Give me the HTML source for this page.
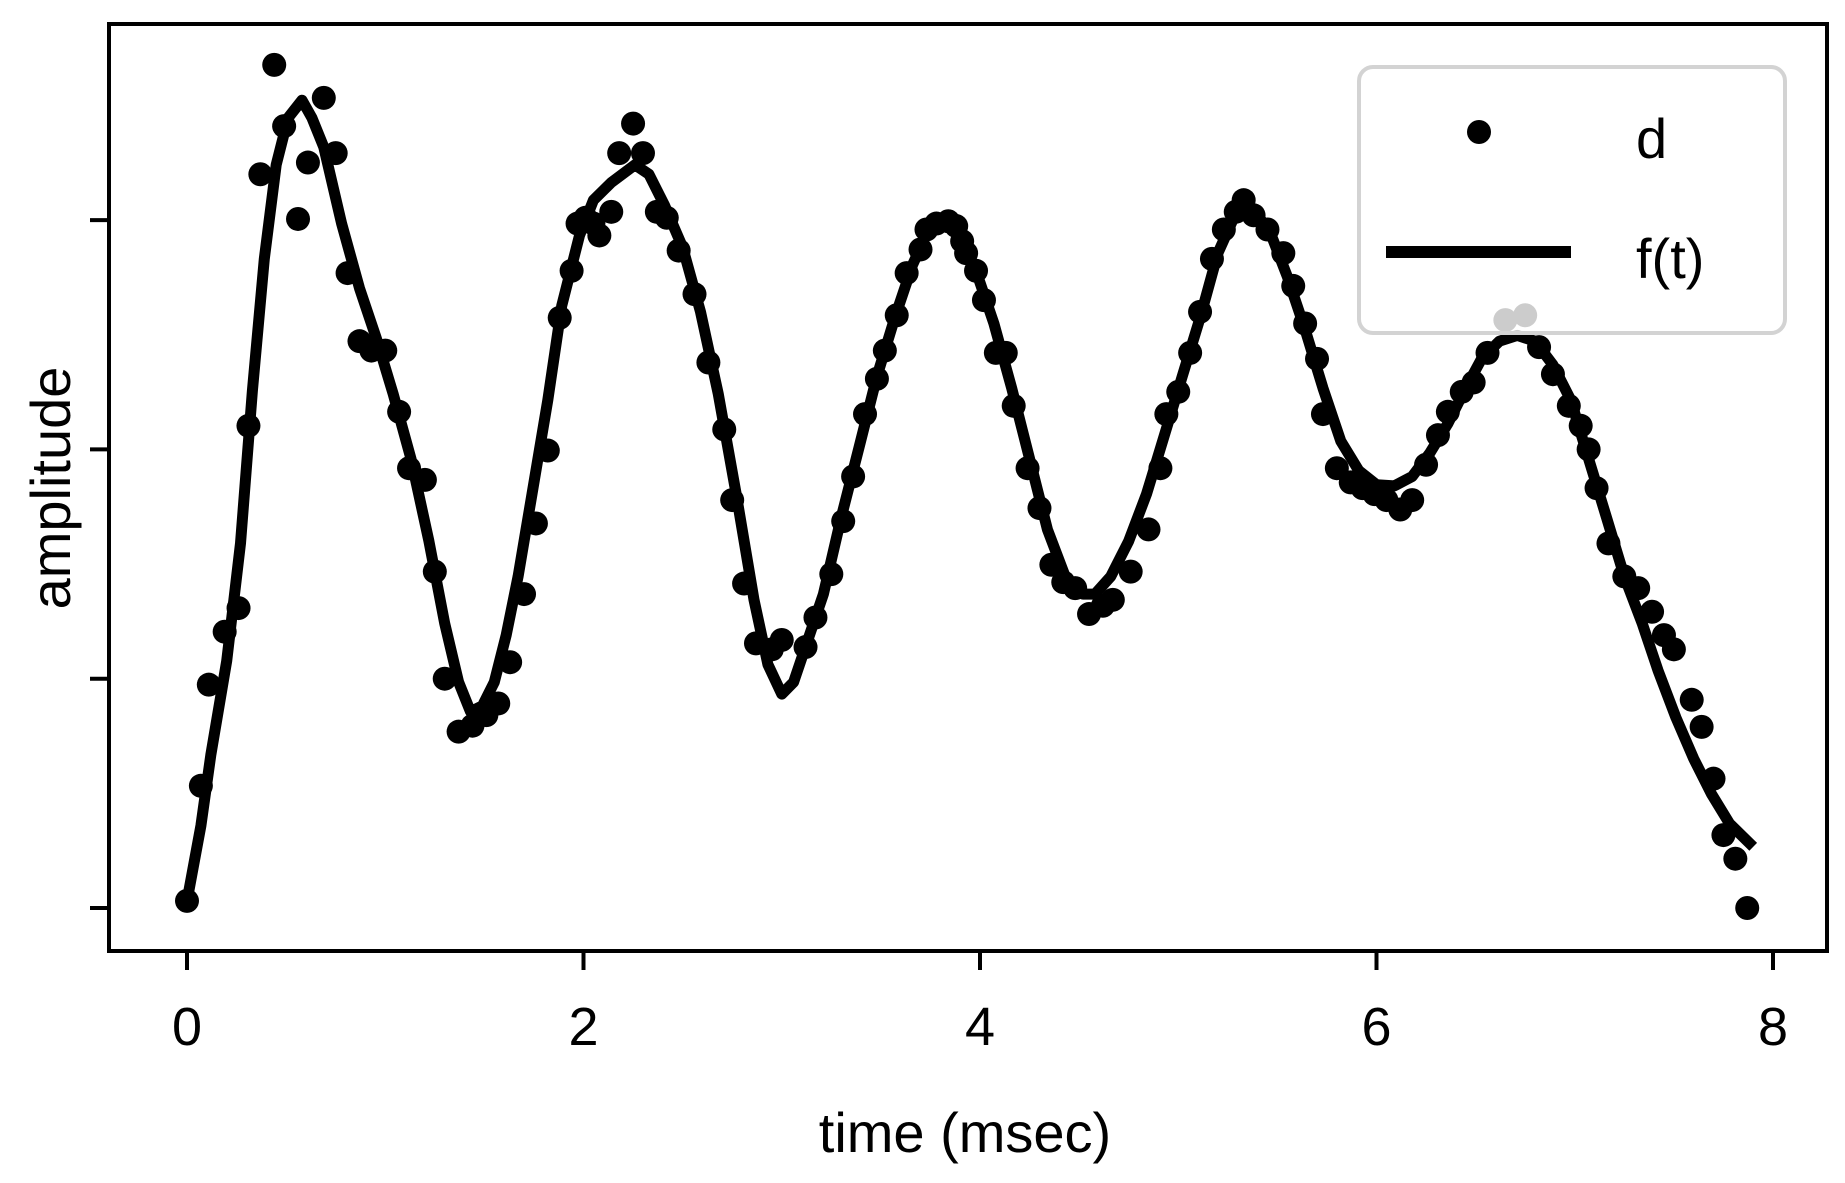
<!DOCTYPE html>
<html><head><meta charset="utf-8"><style>
html,body{margin:0;padding:0;background:#fff}
svg{display:block}
text{font-family:"Liberation Sans",sans-serif;fill:#000}
</style></head><body>
<svg id="chart" width="1845" height="1183" viewBox="0 0 1845 1183" xmlns="http://www.w3.org/2000/svg">
<g id="marks"></g>
<rect x="109" y="24" width="1718" height="927" fill="none" stroke="#000" stroke-width="4"/>
<g id="ticks"></g>
<text x="965" y="1152" font-size="56" text-anchor="middle">time (msec)</text>
<text x="0" y="0" font-size="56" text-anchor="middle" transform="translate(70,488) rotate(-90)">amplitude</text>
<g>
<rect x="1359" y="67" width="426" height="266" rx="14" fill="#fff" fill-opacity="0.8" stroke="#d3d3d3" stroke-width="4"/>
<circle cx="1479" cy="132" r="12" fill="#000"/>
<text x="1636" y="158" font-size="56">d</text>
<line x1="1386" y1="252" x2="1571" y2="252" stroke="#000" stroke-width="12"/>
<text x="1636" y="278" font-size="56">f(t)</text>
</g>
</svg>
<script>
const xTicks=[0,2,4,6,8];
const yTicks=[0,10,20,30];
const dataT=[0.00,0.07,0.11,0.19,0.26,0.31,0.37,0.44,0.49,0.56,0.61,0.69,0.75,0.81,0.87,0.93,1.00,1.07,1.12,1.20,1.25,1.30,1.37,1.44,1.51,1.57,1.63,1.70,1.76,1.82,1.88,1.94,1.97,2.01,2.05,2.08,2.14,2.18,2.25,2.30,2.37,2.42,2.48,2.56,2.63,2.71,2.75,2.81,2.87,2.95,3.00,3.12,3.17,3.25,3.31,3.36,3.42,3.48,3.52,3.58,3.63,3.70,3.73,3.78,3.84,3.88,3.91,3.93,3.98,4.02,4.08,4.13,4.17,4.24,4.30,4.36,4.42,4.48,4.55,4.62,4.67,4.76,4.85,4.91,4.94,5.00,5.06,5.11,5.17,5.23,5.29,5.33,5.38,5.45,5.53,5.58,5.64,5.70,5.73,5.80,5.87,5.93,5.99,6.05,6.12,6.18,6.25,6.31,6.36,6.43,6.49,6.56,6.65,6.75,6.82,6.89,6.97,7.03,7.07,7.11,7.17,7.25,7.32,7.39,7.45,7.50,7.59,7.64,7.70,7.75,7.81,7.87];
const dataD=[0.31,5.33,9.74,12.05,13.08,21.03,32.0,36.77,34.10,30.05,32.51,35.33,32.92,27.69,24.72,24.31,24.31,21.64,19.18,18.67,14.67,10.0,7.69,7.95,8.41,8.92,10.72,13.69,16.77,19.95,25.74,27.79,29.85,30.10,29.85,29.33,30.36,32.92,34.21,32.92,30.36,30.10,28.67,26.77,23.79,20.87,17.79,14.15,11.54,11.28,11.69,11.38,12.67,14.56,16.87,18.82,21.54,23.08,24.31,25.85,27.69,28.72,29.59,29.85,29.95,29.74,29.08,28.56,27.79,26.51,24.21,24.21,21.90,19.18,17.44,14.97,14.21,13.95,12.82,13.18,13.44,14.67,16.51,19.18,21.54,22.51,24.21,26.0,28.31,29.59,30.36,30.87,30.21,29.59,28.56,27.13,25.49,23.95,21.54,19.18,18.56,18.31,18.05,17.79,17.38,17.79,19.33,20.62,21.64,22.51,22.92,24.21,25.64,25.85,24.46,23.28,21.90,21.03,20.0,18.31,15.90,14.46,13.95,12.92,11.90,11.28,9.08,7.90,5.64,3.18,2.15,0.0];
const fitT=[0,0.07,0.12,0.20,0.27,0.33,0.39,0.45,0.51,0.58,0.63,0.69,0.78,0.87,0.96,1.04,1.13,1.22,1.30,1.37,1.43,1.49,1.55,1.61,1.67,1.74,1.82,1.89,1.98,2.05,2.14,2.26,2.33,2.41,2.50,2.59,2.68,2.77,2.86,2.93,3.00,3.06,3.14,3.21,3.30,3.39,3.48,3.57,3.66,3.74,3.83,3.89,3.98,4.07,4.16,4.25,4.34,4.43,4.52,4.58,4.66,4.75,4.84,4.93,5.02,5.11,5.20,5.28,5.34,5.39,5.47,5.55,5.64,5.73,5.82,5.91,6.00,6.09,6.18,6.27,6.36,6.45,6.53,6.62,6.71,6.80,6.89,6.98,7.07,7.16,7.25,7.34,7.42,7.51,7.60,7.69,7.78,7.90];
const fitF=[0.31,3.59,6.67,10.77,15.90,22.56,28.31,32.41,34.46,35.23,34.46,33.18,29.85,27.03,24.72,22.41,19.59,16.0,12.41,9.85,8.56,8.82,9.85,11.90,14.46,18.05,22.15,26.26,29.33,30.87,31.64,32.41,32.0,30.62,28.82,26.0,22.41,18.05,13.44,10.62,9.33,9.85,11.90,13.69,17.03,20.10,23.18,25.74,28.05,29.59,30.10,29.59,27.79,25.49,22.67,19.59,16.51,14.46,13.69,13.69,14.46,16.0,18.05,20.62,23.18,25.74,28.56,30.10,30.77,30.36,29.33,27.54,25.23,22.67,20.36,19.08,18.46,18.41,18.82,19.85,21.13,22.67,23.95,24.72,24.97,24.72,23.69,22.15,19.59,17.03,14.46,12.41,10.36,8.31,6.51,4.97,3.69,2.67];
const NS='http://www.w3.org/2000/svg';
function xs(t){return 187+t*198.25;}
function ys(v){return 908-v*22.93;}
const marks=document.getElementById('marks');
const ticks=document.getElementById('ticks');
let d='';
fitT.forEach((t,i)=>{d+=(i?'L':'M')+xs(t).toFixed(1)+' '+ys(fitF[i]).toFixed(1);});
const p=document.createElementNS(NS,'path');
p.setAttribute('d',d);p.setAttribute('fill','none');p.setAttribute('stroke','#000');
p.setAttribute('stroke-width','11');p.setAttribute('stroke-linejoin','round');


marks.appendChild(p);
dataT.forEach((t,i)=>{
  const c=document.createElementNS(NS,'circle');
  c.setAttribute('cx',xs(t));c.setAttribute('cy',ys(dataD[i]));c.setAttribute('r','12');c.setAttribute('fill','#000');
  
  
  marks.appendChild(c);
});
xTicks.forEach(v=>{
  const l=document.createElementNS(NS,'line');
  l.setAttribute('x1',xs(v));l.setAttribute('x2',xs(v));l.setAttribute('y1',951);l.setAttribute('y2',970);
  l.setAttribute('stroke','#000');l.setAttribute('stroke-width','4');
  
  
  ticks.appendChild(l);
  const tx=document.createElementNS(NS,'text');
  tx.setAttribute('x',xs(v));tx.setAttribute('y',1045);tx.setAttribute('font-size','54');tx.setAttribute('text-anchor','middle');
  tx.textContent=v;
  
  
  ticks.appendChild(tx);
});
yTicks.forEach(v=>{
  const l=document.createElementNS(NS,'line');
  l.setAttribute('x1',90);l.setAttribute('x2',109);l.setAttribute('y1',ys(v));l.setAttribute('y2',ys(v));
  l.setAttribute('stroke','#000');l.setAttribute('stroke-width','4');
  
  
  ticks.appendChild(l);
});
</script>
</body></html>
